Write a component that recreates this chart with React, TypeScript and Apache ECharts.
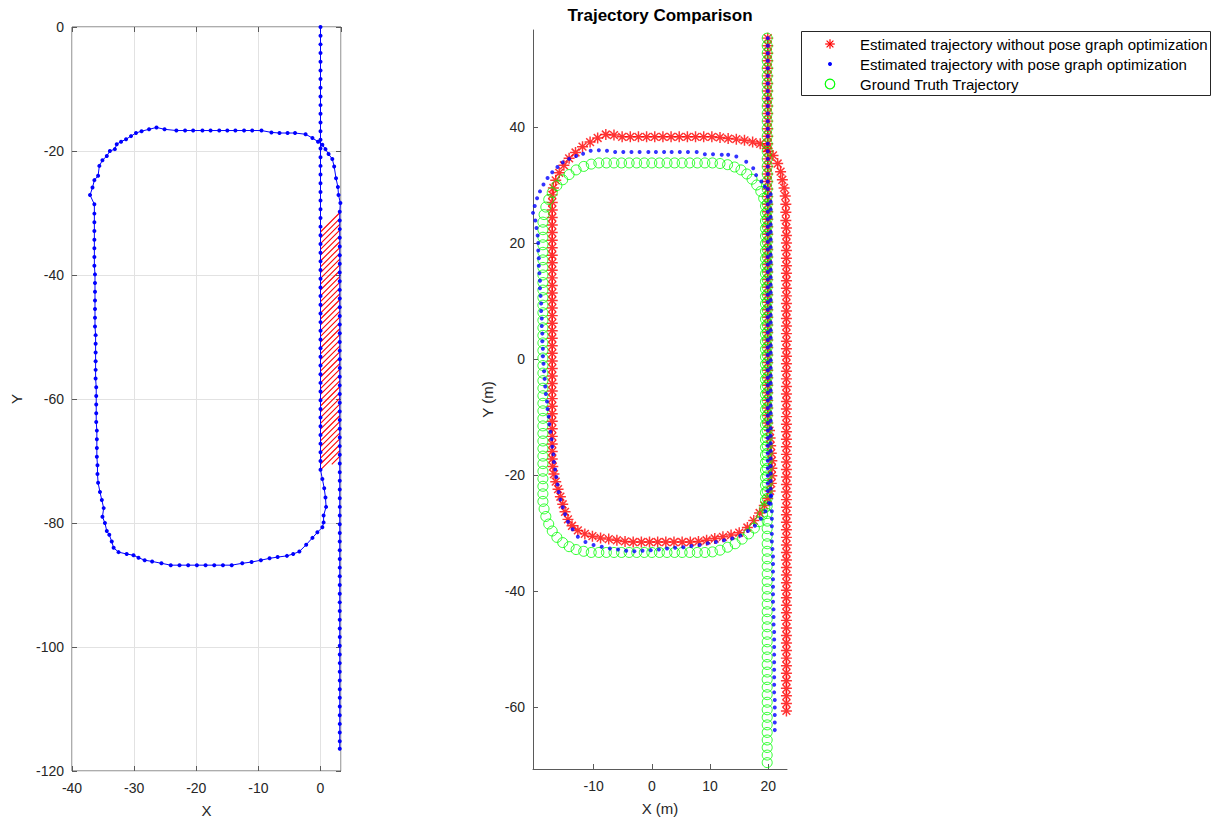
import { useEffect, useRef } from "react";
import * as echarts from "echarts";

const FONT = "'Liberation Sans', Arial, Helvetica, sans-serif";
const AXIS = "#5a5a5a";
const TEXT = "#262626";
const GRIDLINE = "#e2e2e2";

// ---------------- Left panel: loop trajectory (blue line with dots) ----------------
const mapDescentX = 0;
const mapDescentY = [0, -1.4, -2.8, -4.2, -5.6, -7, -8.4, -9.8, -11.2, -12.6, -14, -15.4, -16.8, -18.2, -19.6, -21, -22.4, -23.8, -25.2, -26.6, -28, -29.4, -30.8, -32.2, -33.6, -35, -36.4, -37.8, -39.2, -40.6, -42, -43.4, -44.8, -46.2, -47.6, -49, -50.4, -51.8, -53.2, -54.6, -56, -57.4, -58.8, -60.2, -61.6, -63, -64.4, -65.8, -67.2, -68.6, -70, -71.4];
const mapSouth = [[0.3, -72.9], [0.6, -74.4], [0.8, -75.9], [0.9, -77.4], [0.5, -78.8], [0.5, -79.9], [0.3, -80.7], [-0.5, -81.5], [-1.3, -82.4], [-2.3, -83.5], [-3.4, -84.6], [-4.4, -85], [-5.4, -85.3], [-6.9, -85.5], [-8.2, -85.7], [-9.6, -86], [-11.1, -86.3], [-12.6, -86.5], [-14.3, -86.8], [-15.7, -86.8], [-17.1, -86.8], [-18.5, -86.8], [-19.9, -86.8], [-21.3, -86.8], [-22.7, -86.8], [-24.1, -86.8], [-25.6, -86.5], [-27.1, -86.2], [-28.3, -86], [-29.3, -85.6], [-30.1, -85.2], [-31.2, -85], [-32.5, -84.7], [-33.3, -84], [-33.6, -83], [-34, -81.9], [-34.4, -81.3], [-34.7, -80], [-35.1, -79], [-34.9, -77.6], [-35.2, -76.3], [-35.5, -75], [-35.8, -73.5]];
const mapWest = [[-35.9, -72.1], [-35.9, -70.7], [-36, -69.3], [-36, -67.9], [-36, -66.5], [-36, -65.1], [-36.1, -63.7], [-36.1, -62.3], [-36.1, -60.9], [-36.1, -59.5], [-36.1, -58.1], [-36.2, -56.7], [-36.2, -55.3], [-36.2, -53.9], [-36.2, -52.5], [-36.2, -51.1], [-36.2, -49.7], [-36.3, -48.3], [-36.3, -46.9], [-36.3, -45.5], [-36.3, -44.1], [-36.3, -42.7], [-36.3, -41.3], [-36.3, -39.9], [-36.4, -38.5], [-36.4, -37.1], [-36.4, -35.7], [-36.4, -34.3], [-36.4, -32.9], [-36.4, -31.5], [-36.4, -30.1], [-36.4, -28.6]];
const mapNorth = [[-37.1, -27.1], [-36.7, -25.9], [-36.4, -24.7], [-35.8, -24], [-35.6, -22.4], [-35.1, -21.5], [-34.4, -20.8], [-33.9, -20], [-33.1, -19.7], [-32.8, -18.9], [-32.1, -18.5], [-31.3, -18.1], [-30.5, -17.6], [-29.7, -17.1], [-28.8, -16.8], [-27.6, -16.5], [-26.4, -16.2], [-25.1, -16.5], [-23.2, -16.7], [-21.8, -16.7], [-20.5, -16.7], [-19, -16.7], [-17.7, -16.7], [-16.3, -16.7], [-15, -16.7], [-13.7, -16.7], [-12.3, -16.7], [-11, -16.7], [-9.5, -16.7], [-7.9, -17], [-6.6, -17.1], [-5.3, -17.1], [-4.1, -17.1], [-2.4, -17.3], [-1.3, -17.9], [-0.4, -18.5], [0.3, -19], [0.8, -19.7], [1.3, -20.5], [1.9, -21.3], [2.2, -22.5], [2.5, -24.4], [2.8, -25.8], [2.9, -27.1], [3.2, -28.4]];
const mapEastX = 3.1;
const mapEastY = [-29.8, -31.2, -32.6, -34, -35.4, -36.8, -38.2, -39.6, -41, -42.4, -43.8, -45.2, -46.6, -48, -49.4, -50.8, -52.2, -53.6, -55, -56.4, -57.8, -59.2, -60.6, -62, -63.4, -64.8, -66.2, -67.6, -69, -70.4, -71.8, -73.2, -74.6, -76, -77.4, -78.8, -80.2, -81.6, -83, -84.4, -85.8, -87.2, -88.6, -90, -91.4, -92.8, -94.2, -95.6, -97, -98.4, -99.8, -101.2, -102.6, -104, -105.4, -106.8, -108.2, -109.6, -111, -112.4, -113.8, -115.2, -116.4];
// hatched (red) patch corners: TL, TR, BR, BL
const hatchX = [0, 3.1, 3.1, 0];
const hatchY = [-32.4, -29.8, -69.5, -72];

// ---------------- Right panel: trajectory comparison ----------------
// Ground truth (green circles)
const gtEastX = 19.8;
const gtEastY = [55.3, 54.0, 52.7, 51.4, 50.1, 48.8, 47.5, 46.2, 44.9, 43.6, 42.3, 41.0, 39.7, 38.4, 37.1, 35.8, 34.5, 33.2, 31.9, 30.6, 29.3, 28.0, 26.7, 25.4, 24.1, 22.8, 21.5, 20.2, 18.9, 17.6, 16.3, 15.0, 13.7, 12.4, 11.1, 9.8, 8.5, 7.2, 5.9, 4.6, 3.3, 2.0, 0.7, -0.6, -1.9, -3.2, -4.5, -5.8, -7.1, -8.4, -9.7, -11.0, -12.3, -13.6, -14.9, -16.2, -17.5, -18.8, -20.1, -21.4, -22.7, -24.0, -25.3, -26.6, -27.9, -29.2, -30.5, -31.8, -33.1, -34.4, -35.7, -37.0, -38.3, -39.6, -40.9, -42.2, -43.5, -44.8, -46.1, -47.4, -48.7, -50.0, -51.3, -52.6, -53.9, -55.2, -56.5, -57.8, -59.1, -60.4, -61.7, -63.0, -64.3, -65.6, -66.9, -68.2, -69.5];
const gtReturnX = 19.5;
const gtReturnY = [26.4, 25.1, 23.8, 22.5, 21.2, 19.9, 18.6, 17.3, 16.0, 14.7, 13.4, 12.1, 10.8, 9.5, 8.2, 6.9, 5.6, 4.3, 3.0, 1.7, 0.4, -0.9, -2.2, -3.5, -4.8, -6.1, -7.4, -8.7, -10.0, -11.3, -12.6, -13.9, -15.2, -16.5, -17.8, -19.1, -20.4, -21.7, -23.0, -24.3];
const gtSouthY = -33.3;
const gtSouthX = [9.1, 7.8, 6.5, 5.2, 3.9, 2.6, 1.3, 0.0, -1.3, -2.6, -3.9, -5.2, -6.5, -7.8, -9.1, -10.4];
const gtWestX = -18.7;
const gtWestY = [-24.5, -23.2, -21.9, -20.6, -19.3, -18.0, -16.7, -15.4, -14.1, -12.8, -11.5, -10.2, -8.9, -7.6, -6.3, -5.0, -3.7, -2.4, -1.1, 0.2, 1.5, 2.8, 4.1, 5.4, 6.7, 8.0, 9.3, 10.6, 11.9, 13.2, 14.5, 15.8, 17.1, 18.4, 19.7, 21.0, 22.3, 23.6];
const gtNorthY = 33.8;
const gtNorthX = [-9.1, -7.8, -6.5, -5.2, -3.9, -2.6, -1.3, 0.0, 1.3, 2.6, 3.9, 5.2, 6.5, 7.8, 9.1, 10.4];
const gtCorners = [
  [19.4, -25.6], [19.0, -26.8], [18.4, -28.0], [17.6, -29.1], [16.6, -30.1], [15.5, -31.0], [14.3, -31.8], [13.0, -32.4], [11.7, -32.9], [10.4, -33.2],
  [-11.7, -33.1], [-13.0, -32.8], [-14.2, -32.3], [-15.3, -31.6], [-16.3, -30.7], [-17.1, -29.6], [-17.7, -28.4], [-18.2, -27.1], [-18.5, -25.8],
  [-18.5, 24.9], [-18.2, 26.2], [-17.7, 27.5], [-17.1, 28.7], [-16.3, 29.9], [-15.3, 30.9], [-14.2, 31.8], [-13.0, 32.6], [-11.7, 33.2], [-10.4, 33.6],
  [11.7, 33.7], [13.0, 33.5], [14.2, 33.1], [15.3, 32.6], [16.3, 31.9], [17.2, 31.0], [18.0, 30.0], [18.7, 28.9], [19.2, 27.7],
];

// Without pose graph optimization (red asterisks)
const rawDescentX = 19.9;
const rawDescentY = [55.3, 54.0, 52.7, 51.4, 50.1, 48.8, 47.5, 46.2, 44.9, 43.6, 42.3, 41.0, 39.7, 38.4, 37.1, 35.8, 34.5, 33.2, 31.9, 30.6, 29.3, 28.0, 26.7, 25.4, 24.1, 22.8, 21.5, 20.2, 18.9, 17.6, 16.3, 15.0, 13.7, 12.4, 11.1, 9.8, 8.5, 7.2, 5.9, 4.6, 3.3, 2.0, 0.7, -0.6, -1.9, -3.2, -4.5, -5.8, -7.1, -8.4, -9.7, -11.0];
const rawSouth = [[20.2, -12.3], [20.3, -13.6], [20.4, -14.9], [20.5, -16.2], [20.6, -17.5], [20.6, -18.8], [20.6, -20.1], [20.5, -21.4], [20.3, -22.7], [19.9, -24.0], [19.3, -25.2], [18.5, -26.5], [17.5, -27.8], [16.4, -29.0], [15.0, -29.9], [13.6, -30.3], [12.2, -30.6], [10.8, -30.9], [9.4, -31.2], [8.0, -31.4], [6.6, -31.5], [5.2, -31.5], [3.8, -31.5], [2.4, -31.5], [1.0, -31.5], [-0.4, -31.5], [-1.8, -31.5], [-3.2, -31.5], [-4.6, -31.4], [-6.0, -31.2], [-7.4, -31.0], [-8.8, -30.8], [-10.2, -30.5], [-11.5, -30.1], [-12.7, -29.5], [-13.7, -28.7], [-14.4, -27.6], [-14.9, -26.3], [-15.3, -25.0], [-15.7, -23.7], [-16.1, -22.4], [-16.5, -21.1], [-16.8, -19.8], [-17.0, -18.5]];
const rawWestX = -17.1;
const rawWestY = [-17.2, -15.9, -14.6, -13.3, -12.0, -10.7, -9.4, -8.1, -6.8, -5.5, -4.2, -2.9, -1.6, -0.3, 1.0, 2.3, 3.6, 4.9, 6.2, 7.5, 8.8, 10.1, 11.4, 12.7, 14.0, 15.3, 16.6, 17.9, 19.2, 20.5, 21.8, 23.1, 24.4, 25.7, 27.0, 28.3];
const rawNorth = [[-16.9, 29.5], [-16.5, 30.8], [-15.9, 32.1], [-15.1, 33.4], [-14.2, 34.6], [-13.1, 35.6], [-11.9, 36.6], [-10.6, 37.4], [-9.3, 38.1], [-7.9, 38.7], [-6.5, 38.6], [-5.1, 38.3], [-3.7, 38.3], [-2.3, 38.3], [-0.9, 38.3], [0.5, 38.3], [1.9, 38.3], [3.3, 38.3], [4.7, 38.3], [6.1, 38.3], [7.5, 38.3], [8.9, 38.3], [10.3, 38.3], [11.7, 38.2], [13.1, 38.0], [14.5, 37.9], [15.9, 37.7], [17.3, 37.4], [18.6, 37.1], [19.8, 36.3], [20.8, 35.1], [21.6, 33.7], [22.1, 32.3], [22.4, 30.9], [22.7, 29.5], [22.9, 28.1], [23.0, 26.7], [23.0, 25.3], [23.0, 23.9]];
const rawEastX = 23.1;
const rawEastY = [22.6, 21.3, 20.0, 18.7, 17.4, 16.1, 14.8, 13.5, 12.2, 10.9, 9.6, 8.3, 7.0, 5.7, 4.4, 3.1, 1.8, 0.5, -0.8, -2.1, -3.4, -4.7, -6.0, -7.3, -8.6, -9.9, -11.2, -12.5, -13.8, -15.1, -16.4, -17.7, -19.0, -20.3, -21.6, -22.9, -24.2, -25.5, -26.8, -28.1, -29.4, -30.7, -32.0, -33.3, -34.6, -35.9, -37.2, -38.5, -39.8, -41.1, -42.4, -43.7, -45.0, -46.3, -47.6, -48.9, -50.2, -51.5, -52.8, -54.1, -55.4, -56.7, -58.0, -59.3, -60.6];

// With pose graph optimization (blue dots)
const optDescentX = 19.9;
const optDescentY = [55.3, 54.0, 52.7, 51.4, 50.1, 48.8, 47.5, 46.2, 44.9, 43.6, 42.3, 41.0, 39.7, 38.4, 37.1, 35.8, 34.5, 33.2, 31.9, 30.6, 29.3, 28.0, 26.7, 25.4, 24.1, 22.8, 21.5, 20.2, 18.9, 17.6, 16.3, 15.0, 13.7, 12.4, 11.1, 9.8, 8.5, 7.2, 5.9, 4.6, 3.3, 2.0, 0.7, -0.6, -1.9, -3.2, -4.5, -5.8, -7.1, -8.4, -9.7, -11.0, -12.3, -13.6, -14.9, -16.2, -17.5, -18.8, -20.1, -21.4, -22.7];
const optLoop = [
  [19.4, 29.7], [18.8, 30.6], [17.9, 31.7], [17.4, 32.9], [16.2, 34.0], [14.5, 34.9], [13.1, 35.2], [12.0, 35.2], [10.5, 35.3], [9.1, 35.3],
  [7.7, 35.7], [6.2, 35.7], [4.8, 35.7], [3.4, 35.7], [2.1, 35.7], [0.7, 35.7], [-0.6, 35.7], [-2.1, 35.7], [-3.5, 35.7], [-4.9, 35.7], [-6.3, 35.7], [-7.7, 35.9], [-9.1, 36.0], [-10.5, 35.9],
  [-11.8, 35.4], [-13.0, 35.0], [-14.2, 34.5], [-15.3, 33.9], [-16.2, 33.1], [-17.1, 32.2], [-17.9, 31.2], [-18.6, 30.1], [-19.2, 28.9], [-19.7, 27.7], [-20.1, 26.4], [-20.4, 25.2],
  [-20.0, 23.9], [-19.8, 22.6], [-19.6, 21.3], [-19.5, 20.0], [-19.5, 18.7], [-19.4, 17.4], [-19.4, 16.1], [-19.3, 14.8], [-19.2, 13.5], [-19.2, 12.2], [-19.1, 10.9], [-19.0, 9.6], [-19.0, 8.3], [-18.9, 7.0], [-18.9, 5.7], [-18.8, 4.4], [-18.8, 3.1], [-18.7, 1.8], [-18.7, 0.5], [-18.6, -0.8], [-18.5, -2.1], [-18.4, -3.4], [-18.3, -4.7], [-18.2, -6.0], [-18.0, -7.3], [-17.9, -8.6], [-17.7, -9.9], [-17.6, -11.2], [-17.4, -12.5], [-17.2, -13.8], [-17.1, -15.1], [-16.9, -16.4], [-16.8, -17.7], [-16.6, -19.0], [-16.4, -20.3], [-16.2, -21.6],
  [-16.0, -22.9], [-15.7, -24.2], [-15.3, -25.5], [-14.9, -26.7], [-14.4, -28.0], [-13.6, -29.3], [-12.7, -30.6], [-11.4, -31.5], [-10.0, -32.0], [-8.6, -32.3], [-7.2, -32.6], [-5.8, -32.8], [-4.4, -33.0], [-3.0, -33.1], [-1.6, -33.0], [-0.2, -32.9], [1.2, -32.8], [2.6, -32.6], [4.0, -32.5], [5.4, -32.4], [6.8, -32.2], [8.2, -32.0], [9.6, -31.7], [11.0, -31.5], [12.4, -31.2], [13.8, -30.9], [15.2, -30.4], [16.5, -29.6], [17.7, -28.7], [18.7, -27.5], [19.5, -26.2], [20.1, -24.8], [20.5, -23.5],
];
const optReturnX = 20.4;
const optReturnY = [28.4, 27.1, 25.8, 24.5, 23.2, 21.9, 20.6, 19.3, 18.0, 16.7, 15.4, 14.1, 12.8, 11.5, 10.2, 8.9, 7.6, 6.3, 5.0, 3.7, 2.4, 1.1, -0.2, -1.5, -2.8, -4.1, -5.4, -6.7, -8.0, -9.3, -10.6, -11.9, -13.2, -14.5, -15.8, -17.1, -18.4, -19.7, -21.0, -22.3, -23.6, -24.9];
const optTail = [[20.6, -26.2], [20.6, -27.5], [20.6, -28.8], [20.6, -30.1], [20.6, -31.4], [20.7, -32.7], [20.8, -34.0], [20.8, -35.3], [20.8, -36.6], [20.8, -37.9], [20.8, -39.2], [20.8, -40.5], [20.8, -41.8], [20.9, -43.1], [20.9, -44.4], [20.9, -45.7], [21.0, -47.0], [21.0, -48.3], [21.0, -49.6], [21.0, -50.9], [21.0, -52.2], [21.0, -53.5], [21.0, -54.8], [21.0, -56.1], [21.0, -57.4], [21.1, -58.7], [21.1, -60.0], [21.1, -61.3], [21.1, -62.6], [21.1, -63.9]];

// tick labels
const leftXTicks = { min: -40, max: 3.3, interval: 10 };
const leftYTicks = { min: -120, max: 0, interval: 20 };
const rightXTicks = [-10, 0, 10, 20];
const rightYTicks = [-60, -40, -20, 0, 20, 40];
const rightXRange = [-20.4, 23.2];
const rightYRange = [-70.6, 56.7];

const seriesNames = [
  "Estimated trajectory without pose graph optimization",
  "Estimated trajectory with pose graph optimization",
  "Ground Truth Trajectory",
];

const alongY = (x: number, ys: number[]) => ys.map((y) => [x, y]);
const alongX = (xs: number[], y: number) => xs.map((x) => [x, y]);

const ASTERISK =
  "path://M0 5.2L12 5.2L12 6.8L0 6.8Z M5.2 0L6.8 0L6.8 12L5.2 12Z M2.33 1.19L10.81 9.67L9.67 10.81L1.19 2.33Z M10.81 2.33L2.33 10.81L1.19 9.67L9.67 1.19Z";

const HATCH_STEP = 5.8;

function renderHatch(_params: any, api: any) {
  const p = hatchX.map((x, i) => api.coord([x, hatchY[i]]));
  const L = p[0][0];
  const R = p[1][0];
  const W = R - L;
  const yTL = p[0][1];
  const yTR = p[1][1];
  const yBR = p[2][1];
  const yBL = p[3][1];
  const sT = (yTR - yTL) / W;
  const sB = (yBR - yBL) / W;
  const cs = [yTL, yTR + W, yBR + W, yBL];
  const cMin = Math.min(...cs);
  const cMax = Math.max(...cs);
  const children: any[] = [];
  for (let c = Math.ceil(cMin / HATCH_STEP) * HATCH_STEP; c <= cMax; c += HATCH_STEP) {
    let lo = 0;
    let hi = W;
    const a1 = 1 + sT;
    const b1 = c - yTL;
    if (a1 > 1e-9) hi = Math.min(hi, b1 / a1);
    else if (a1 < -1e-9) lo = Math.max(lo, b1 / a1);
    else if (b1 < 0) continue;
    const a2 = 1 + sB;
    const b2 = c - yBL;
    if (a2 > 1e-9) lo = Math.max(lo, b2 / a2);
    else if (a2 < -1e-9) hi = Math.min(hi, b2 / a2);
    else if (b2 > 0) continue;
    if (hi - lo < 0.5) continue;
    children.push({
      type: "line",
      shape: { x1: L + lo, y1: c - lo, x2: L + hi, y2: c - hi },
      style: { stroke: "#ff0000", lineWidth: 1.1, opacity: 1 },
    });
  }
  return { type: "group", children };
}

function buildOption(): any {
  const mapData = [
    ...alongY(mapDescentX, mapDescentY),
    ...mapSouth,
    ...mapWest,
    ...mapNorth,
    ...alongY(mapEastX, mapEastY),
  ];
  const gtData = [
    ...alongY(gtEastX, gtEastY),
    ...alongY(gtReturnX, gtReturnY),
    ...alongX(gtSouthX, gtSouthY),
    ...alongY(gtWestX, gtWestY),
    ...alongX(gtNorthX, gtNorthY),
    ...gtCorners,
  ];
  const rawData = [
    ...alongY(rawDescentX, rawDescentY),
    ...rawSouth,
    ...alongY(rawWestX, rawWestY),
    ...rawNorth,
    ...alongY(rawEastX, rawEastY),
  ];
  const optData = [
    ...alongY(optDescentX, optDescentY),
    ...optLoop,
    ...alongY(optReturnX, optReturnY),
    ...optTail,
  ];

  const labelStyle = { fontSize: 14, color: TEXT, fontFamily: FONT };
  const nameStyle = { fontSize: 15, color: TEXT, fontFamily: FONT };
  const tick = { show: true, inside: true, length: 5, lineStyle: { color: AXIS, width: 1 } };

  const asteriskLines = [0, 45, 90, 135].map((deg) => {
    const r = (deg * Math.PI) / 180;
    const a = 4.8;
    return {
      type: "line",
      shape: { x1: 830 - a * Math.cos(r), y1: 44 - a * Math.sin(r), x2: 830 + a * Math.cos(r), y2: 44 + a * Math.sin(r) },
      style: { stroke: "#ff0000", lineWidth: 1.2 },
    };
  });

  return {
    animation: false,
    backgroundColor: "#ffffff",
    title: {
      text: "Trajectory Comparison",
      left: 660,
      top: 7,
      padding: 0,
      textAlign: "center",
      textStyle: { fontSize: 17, fontWeight: "bold", color: "#000", fontFamily: FONT },
    },
    grid: [
      { left: 72, top: 27, width: 269, height: 744, show: true, borderColor: AXIS, borderWidth: 1, backgroundColor: "transparent" },
      { left: 533, top: 30, width: 254, height: 739, show: false },
    ],
    xAxis: [
      {
        gridIndex: 0, type: "value", position: "bottom", min: leftXTicks.min, max: leftXTicks.max, interval: leftXTicks.interval,
        axisLine: { show: false, onZero: false }, axisTick: tick,
        axisLabel: { ...labelStyle, margin: 10, showMaxLabel: false },
        splitLine: { show: true, lineStyle: { color: GRIDLINE, width: 1 } },
        name: "X", nameLocation: "middle", nameGap: 32, nameTextStyle: nameStyle,
      },
      {
        gridIndex: 0, type: "value", position: "top", min: leftXTicks.min, max: leftXTicks.max, interval: leftXTicks.interval,
        axisLine: { show: false, onZero: false }, axisTick: tick, axisLabel: { show: false }, splitLine: { show: false },
      },
      {
        gridIndex: 1, type: "value", position: "bottom", min: rightXRange[0], max: rightXRange[1],
        axisLine: { show: true, onZero: false, lineStyle: { color: AXIS, width: 1 } },
        axisTick: { ...tick, customValues: rightXTicks },
        axisLabel: { ...labelStyle, margin: 10, customValues: rightXTicks },
        splitLine: { show: false },
        name: "X (m)", nameLocation: "middle", nameGap: 32, nameTextStyle: nameStyle,
      },
    ],
    yAxis: [
      {
        gridIndex: 0, type: "value", position: "left", min: leftYTicks.min, max: leftYTicks.max, interval: leftYTicks.interval,
        axisLine: { show: false, onZero: false }, axisTick: tick,
        axisLabel: { ...labelStyle, margin: 8 },
        splitLine: { show: true, lineStyle: { color: GRIDLINE, width: 1 } },
        name: "Y", nameLocation: "middle", nameGap: 48, nameRotate: 90, nameTextStyle: nameStyle,
      },
      {
        gridIndex: 0, type: "value", position: "right", min: leftYTicks.min, max: leftYTicks.max, interval: leftYTicks.interval,
        axisLine: { show: false, onZero: false }, axisTick: tick, axisLabel: { show: false }, splitLine: { show: false },
      },
      {
        gridIndex: 1, type: "value", position: "left", min: rightYRange[0], max: rightYRange[1],
        axisLine: { show: true, onZero: false, lineStyle: { color: AXIS, width: 1 } },
        axisTick: { ...tick, customValues: rightYTicks },
        axisLabel: { ...labelStyle, margin: 8, customValues: rightYTicks },
        splitLine: { show: false },
        name: "Y (m)", nameLocation: "middle", nameGap: 38, nameRotate: 90, nameTextStyle: nameStyle,
      },
    ],
    series: [
      {
        type: "custom", name: "closure region", xAxisIndex: 0, yAxisIndex: 0, coordinateSystem: "cartesian2d",
        data: [[hatchX[0], hatchY[0]]], renderItem: renderHatch, silent: true, z: 1,
      },
      {
        type: "line", name: "trajectory", xAxisIndex: 0, yAxisIndex: 0, data: mapData,
        symbol: "circle", symbolSize: 4, showSymbol: true,
        lineStyle: { color: "#0000ff", width: 1 }, itemStyle: { color: "#0000ff" }, z: 2, silent: true,
      },
      {
        type: "scatter", name: seriesNames[0], xAxisIndex: 2, yAxisIndex: 2, data: rawData,
        symbol: ASTERISK, symbolSize: 11, itemStyle: { color: "#ff0000" }, z: 2, silent: true,
      },
      {
        type: "scatter", name: seriesNames[2], xAxisIndex: 2, yAxisIndex: 2, data: gtData,
        symbol: "circle", symbolSize: 10,
        itemStyle: { color: "rgba(0,0,0,0)", borderColor: "#00ff00", borderWidth: 1 }, z: 3, silent: true,
      },
      {
        type: "scatter", name: seriesNames[1], xAxisIndex: 2, yAxisIndex: 2, data: optData,
        symbol: "circle", symbolSize: 4, itemStyle: { color: "#0000ff" }, z: 4, silent: true,
      },
    ],
    graphic: [
      {
        type: "group",
        children: [
          { type: "rect", shape: { x: 801.5, y: 31.5, width: 409, height: 64 }, style: { fill: "#fff", stroke: TEXT, lineWidth: 1 } },
          ...asteriskLines,
          { type: "circle", shape: { cx: 830, cy: 64, r: 2 }, style: { fill: "#0000ff" } },
          { type: "circle", shape: { cx: 830, cy: 84, r: 4.8 }, style: { fill: "none", stroke: "#00ff00", lineWidth: 1.2 } },
          { type: "text", x: 860, y: 44, style: { text: seriesNames[0], fontSize: 15, fill: "#000", fontFamily: FONT, verticalAlign: "middle" } },
          { type: "text", x: 860, y: 64, style: { text: seriesNames[1], fontSize: 15, fill: "#000", fontFamily: FONT, verticalAlign: "middle" } },
          { type: "text", x: 860, y: 84, style: { text: seriesNames[2], fontSize: 15, fill: "#000", fontFamily: FONT, verticalAlign: "middle" } },
        ],
      },
    ],
  };
}

export default function App() {
  const ref = useRef<HTMLDivElement>(null);
  useEffect(() => {
    if (!ref.current) return;
    const chart = echarts.init(ref.current, null, { renderer: "svg" });
    chart.setOption(buildOption());
    return () => chart.dispose();
  }, []);
  return (
    <div
      ref={ref}
      style={{ position: "fixed", left: 0, top: 0, width: 1224, height: 823, background: "#ffffff" }}
    />
  );
}
